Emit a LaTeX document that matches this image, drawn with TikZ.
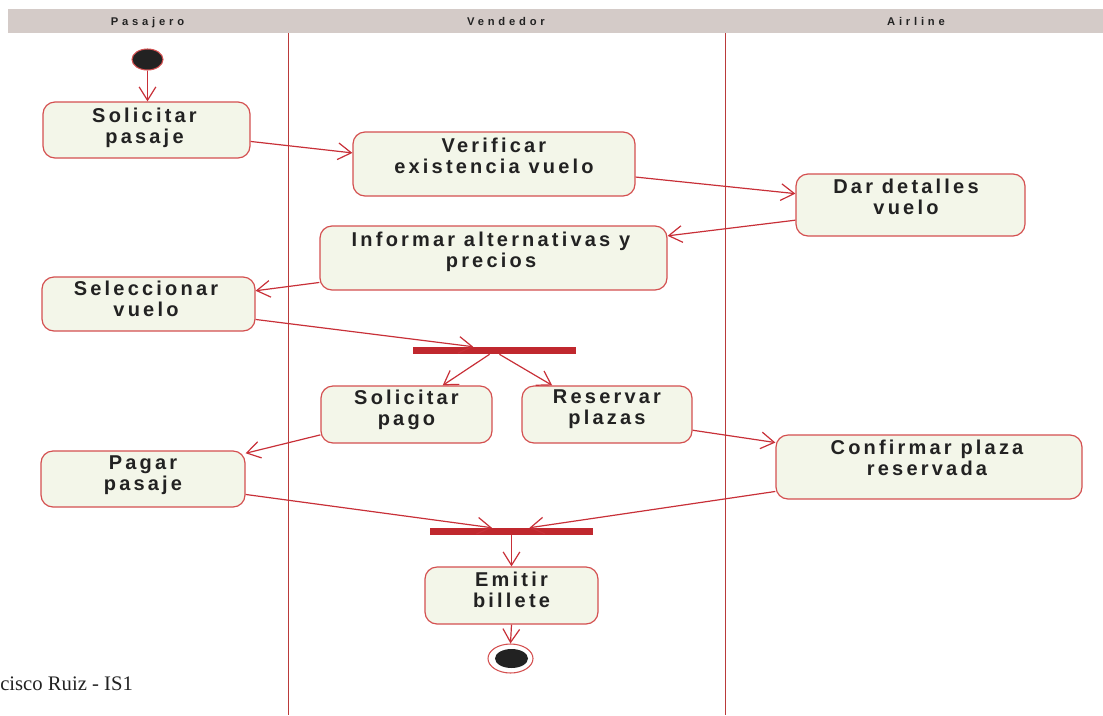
\documentclass[tikz,border=0pt]{standalone}
\usepackage{fontspec}
\usetikzlibrary{arrows.meta,calc,shapes.geometric}
\setmainfont{Liberation Serif}
\newfontfamily\actfont[LetterSpace=16]{Liberation Sans}
\newfontfamily\lanefont[LetterSpace=34]{Liberation Sans}

\definecolor{lanegray}{RGB}{212,203,200}
\definecolor{actfill}{RGB}{243,246,233}
\definecolor{actborder}{RGB}{212,80,80}
\definecolor{flowred}{RGB}{200,48,56}
\definecolor{barred}{RGB}{192,40,46}
\definecolor{laneline}{RGB}{186,58,58}
\definecolor{ink}{RGB}{34,34,34}

\begin{document}
\begin{tikzpicture}[x=0.75pt,y=-0.75pt,
  act/.style n args={2}{draw=actborder, fill=actfill, line width=0.9pt,
    rounded corners=9pt, minimum width=#1*0.75pt, minimum height=#2*0.75pt,
    inner sep=0pt},
  lbl/.style={anchor=north, inner sep=0pt, align=center, text=ink,
    font=\fontsize{15}{15.75}\selectfont\actfont\bfseries,
    execute at begin node=\rule{0pt}{11pt}},
  lanehd/.style={anchor=base, inner sep=0pt, text=ink,
    font=\fontsize{8.4}{9.6}\selectfont\lanefont\bfseries},
  syncbar/.style={fill=barred, draw=none, inner sep=0pt,
    minimum width=163*0.75pt, minimum height=7*0.75pt},
  flow/.style={draw=flowred, line width=0.9pt,
    -{Straight Barb[length=10pt,width=12.5pt,line width=0.9pt]}},
]
\useasboundingbox (0,0) rectangle (1103,715);

% swimlane header and separators
\fill[lanegray] (8,9) rectangle (1103,33);
\node[lanehd] (hpas) at (147.5,25.7) {Pasajero};
\node[lanehd] (hven) at (506,25.7) {Vendedor};
\node[lanehd] (hair) at (916,25.7) {Airline};
\draw[laneline, line width=0.6pt] (288,33) -- (288,715);
\draw[laneline, line width=0.6pt] (725,33) -- (725,715);

% initial and final states
\node[draw=actborder, fill=ink, line width=0.8pt, ellipse, inner sep=0pt,
  minimum width=31*0.75pt, minimum height=21*0.75pt] (start) at (147.5,59.5) {};
\node[draw=actborder, fill=white, line width=0.8pt, ellipse, inner sep=0pt,
  minimum width=45*0.75pt, minimum height=29*0.75pt] (final) at (510.5,658.5) {};
\node[fill=ink, ellipse, inner sep=0pt,
  minimum width=33*0.75pt, minimum height=19*0.75pt] (finalin) at (511.5,658.5) {};

% activities
\node[act={207}{56}] (sol) at (146.5,130) {};
\node[lbl] (tsol) at (144.5,107.3) {Solicitar\\pasaje};
\node[act={282}{64}] (ver) at (494,164) {};
\node[lbl] (tver) at (494,137.3) {Verificar\\existencia vuelo};
\node[act={229}{62}] (dar) at (910.5,205) {};
\node[lbl] (tdar) at (906,178.3) {Dar detalles\\vuelo};
\node[act={347}{64}] (inf) at (493.5,258) {};
\node[lbl] (tinf) at (491,231.3) {Informar alternativas y\\precios};
\node[act={213}{54}] (sel) at (148.5,304) {};
\node[lbl] (tsel) at (146,280.3) {Seleccionar\\vuelo};
\node[act={171}{57}] (pago) at (406.5,414.5) {};
\node[lbl] (tpago) at (406.5,389.3) {Solicitar\\pago};
\node[act={170}{57}] (res) at (607,414.5) {};
\node[lbl] (tres) at (607,389.3) {Reservar\\plazas};
\node[act={204}{56}] (pag) at (143,479) {};
\node[lbl] (tpag) at (143,455.3) {Pagar\\pasaje};
\node[act={306}{64}] (conf) at (929,467) {};
\node[lbl] (tconf) at (927,439.3) {Confirmar plaza\\reservada};
\node[act={173}{57}] (emit) at (511.5,595.5) {};
\node[lbl] (temit) at (511.5,571.3) {Emitir\\billete};

% fork and join bars
\node[syncbar] (fork) at (494.5,350.5) {};
\node[syncbar] (join) at (511.5,531.5) {};

% control flow
\draw[flow] (start.south) -- (start.south |- sol.north);
\draw[flow] ($(sol.north east)!0.70!(sol.south east)$) -- ($(ver.north west)!0.33!(ver.south west)$);
\draw[flow] ($(ver.north east)!0.70!(ver.south east)$) -- ($(dar.north west)!0.32!(dar.south west)$);
\draw[flow] ($(dar.north west)!0.74!(dar.south west)$) -- ($(inf.north east)!0.16!(inf.south east)$);
\draw[flow] ($(inf.north west)!0.875!(inf.south west)$) -- ($(sel.north east)!0.26!(sel.south east)$);
\draw[flow] ($(sel.north east)!0.78!(sel.south east)$) -- ($(fork.north west)!0.37!(fork.north east)$);
\draw[flow] ($(fork.south west)!0.47!(fork.south east)$) -- ($(pago.north west)!0.71!(pago.north east)$);
\draw[flow] ($(fork.south west)!0.53!(fork.south east)$) -- ($(res.north west)!0.18!(res.north east)$);
\draw[flow] ($(pago.north west)!0.85!(pago.south west)$) -- ($(pag.north east)!0.05!(pag.south east)$);
\draw[flow] ($(res.north east)!0.77!(res.south east)$) -- ($(conf.north west)!0.125!(conf.south west)$);
\draw[flow] ($(pag.north east)!0.77!(pag.south east)$) -- ($(join.north west)!0.38!(join.north east)$);
\draw[flow] ($(conf.north west)!0.875!(conf.south west)$) -- ($(join.north west)!0.61!(join.north east)$);
\draw[flow] (join.south) -- (emit.north);
\draw[flow] (emit.south) -- (final.north);

% footer
\node[anchor=base west, inner sep=0pt, text=ink, font=\fontsize{15.5}{17}\selectfont]
  (foot) at (0,690) {cisco Ruiz - IS1};
\end{tikzpicture}
\end{document}
